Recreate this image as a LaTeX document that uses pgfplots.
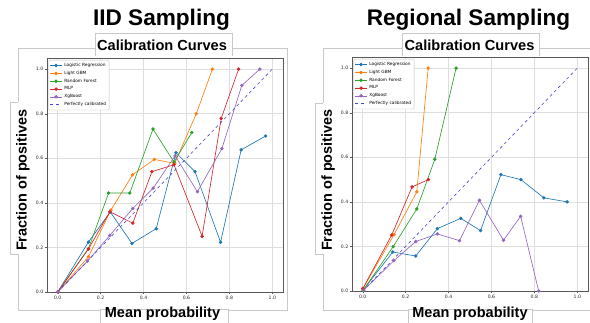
\documentclass[border=0pt]{standalone}
\usepackage{pgfplots}
\pgfplotsset{compat=1.18}
\usepackage{fontspec}
\setmainfont{Liberation Sans}
\newfontfamily\dejavu{DejaVu Sans}
\definecolor{tabblue}{HTML}{1F77B4}
\definecolor{taborange}{HTML}{FF7F0E}
\definecolor{tabgreen}{HTML}{2CA02C}
\definecolor{tabred}{HTML}{D62728}
\definecolor{tabpurple}{HTML}{9467BD}
\definecolor{perfcol}{RGB}{70,70,200}
\definecolor{framegray}{RGB}{200,200,200}
\pgfplotsset{
  calstyle/.style={
    scale only axis, width=236pt, height=234pt,
    xmin=-0.05, xmax=1.05, ymin=0, ymax=1.05,
    xtick={0,0.2,0.4,0.6,0.8,1.0}, ytick={0,0.2,0.4,0.6,0.8,1.0},
    xticklabels={}, yticklabels={0.0,0.2,0.4,0.6,0.8,1.0},
    grid=major, major grid style={black!13, line width=0.6pt},
    axis line style={black!65, line width=0.5pt},
    tick align=outside, major tick length=2pt,
    tick style={black!65, line width=0.4pt},
    tick pos=left,
    tick label style={font=\dejavu\fontsize{4.6}{5.5}\selectfont, text=black!85, inner sep=1.5pt},
    after end axis/.code={
      \foreach \v/\t in {0/0.0,0.2/0.2,0.4/0.4,0.6/0.6,0.8/0.8,1/1.0}{
        \node[anchor=north, inner sep=1.5pt, yshift=-2pt, font=\dejavu\fontsize{4.6}{5.5}\selectfont, text=black!85] at (axis cs:\v,0) {\t};
      }
    },
    legend style={at={(rel axis cs:0,1)}, anchor=north west, xshift=1.5pt, yshift=-2pt,
      font=\dejavu\fontsize{4.3}{5}\selectfont, draw=black!25, rounded corners=1pt,
      inner sep=1pt, row sep=-0.9pt, line width=0.4pt},
    legend cell align=left,
    legend image code/.code={\draw[mark repeat=2,mark phase=2] plot coordinates {(0pt,0pt) (6pt,0pt) (12pt,0pt)};},
    every axis plot/.append style={line width=0.65pt, mark=*, mark size=1.4pt},
  },
}
\begin{document}
\begin{tikzpicture}
\path[use as bounding box] (0,0) rectangle (590pt,322pt);
% outer frames
\draw[framegray, line width=0.8pt] (18pt,12pt) rectangle (287pt,274pt);
\draw[framegray, line width=0.8pt] (323pt,12pt) rectangle (596pt,274pt);

% ---------------- Left axis ----------------
\begin{axis}[calstyle, at={(47pt,30pt)}, anchor=south west]
\addplot[tabblue, mark options={fill=tabblue}] coordinates {(0,0) (0.143,0.224) (0.245,0.359) (0.346,0.218) (0.459,0.284) (0.551,0.625) (0.640,0.540) (0.759,0.223) (0.855,0.638) (0.969,0.700)};
\addlegendentry{Logistic Regression}
\addplot[taborange, mark options={fill=taborange}] coordinates {(0,0) (0.143,0.158) (0.248,0.368) (0.349,0.526) (0.450,0.595) (0.545,0.577) (0.646,0.800) (0.721,1.0)};
\addlegendentry{Light GBM}
\addplot[tabgreen, mark options={fill=tabgreen}] coordinates {(0,0) (0.143,0.194) (0.237,0.444) (0.336,0.444) (0.444,0.731) (0.542,0.583) (0.625,0.716)};
\addlegendentry{Random Forest}
\addplot[tabred, mark options={fill=tabred}] coordinates {(0,0) (0.143,0.193) (0.243,0.360) (0.350,0.309) (0.439,0.540) (0.542,0.571) (0.673,0.250) (0.762,0.779) (0.843,1.0)};
\addlegendentry{MLP}
\addplot[tabpurple, mark options={fill=tabpurple}] coordinates {(0,0) (0.139,0.139) (0.243,0.254) (0.350,0.375) (0.445,0.466) (0.547,0.611) (0.651,0.450) (0.765,0.643) (0.858,0.927) (0.942,1.0)};
\addlegendentry{XgBoost}
\addplot[perfcol, dashed, no markers, line width=0.6pt] coordinates {(0,0) (1,1)};
\addlegendentry{Perfectly calibrated}
\end{axis}

% ---------------- Right axis ----------------
\begin{axis}[calstyle, at={(352pt,31pt)}, anchor=south west]
\addplot[tabblue, mark options={fill=tabblue}] coordinates {(0.003,0.006) (0.140,0.175) (0.247,0.157) (0.348,0.280) (0.457,0.326) (0.549,0.271) (0.644,0.522) (0.737,0.500) (0.844,0.418) (0.953,0.400)};
\addlegendentry{Logistic Regression}
\addplot[taborange, mark options={fill=taborange}] coordinates {(0,0.009) (0.146,0.253) (0.252,0.445) (0.305,1.0)};
\addlegendentry{Light GBM}
\addplot[tabgreen, mark options={fill=tabgreen}] coordinates {(0.002,0.003) (0.142,0.199) (0.252,0.368) (0.336,0.591) (0.435,1.0)};
\addlegendentry{Random Forest}
\addplot[tabred, mark options={fill=tabred}] coordinates {(0.001,0.012) (0.135,0.251) (0.230,0.467) (0.306,0.500)};
\addlegendentry{MLP}
\addplot[tabpurple, mark options={fill=tabpurple}] coordinates {(0.005,0.004) (0.145,0.136) (0.247,0.222) (0.348,0.256) (0.451,0.226) (0.544,0.407) (0.656,0.228) (0.736,0.335) (0.820,0.0)};
\addlegendentry{XgBoost}
\addplot[perfcol, dashed, no markers, line width=0.6pt] coordinates {(0,0) (1,1)};
\addlegendentry{Perfectly calibrated}
\end{axis}

% ---------------- Label boxes ----------------
\fill[white] (95pt,266pt) rectangle (232pt,289pt);
\draw[framegray, line width=0.5pt] (95pt,266pt) -- (95pt,289pt) -- (232pt,289pt) -- (232pt,266pt);
\fill[white] (402pt,266pt) rectangle (539pt,289pt);
\draw[framegray, line width=0.5pt] (402pt,266pt) -- (402pt,289pt) -- (539pt,289pt) -- (539pt,266pt);
\node[font=\bfseries\fontsize{14.6}{16}\selectfont, inner sep=0pt] at (162pt,276.5pt) {Calibration Curves};
\node[font=\bfseries\fontsize{14.6}{16}\selectfont, inner sep=0pt] at (469.5pt,276.5pt) {Calibration Curves};
\node[font=\bfseries\fontsize{22.6}{25}\selectfont, inner sep=0pt] at (161.5pt,302pt) {IID Sampling};
\node[font=\bfseries\fontsize{22.6}{25}\selectfont, inner sep=0pt] at (468.5pt,302pt) {Regional Sampling};
\fill[white] (10pt,68pt) rectangle (31pt,220pt);
\draw[framegray, line width=0.5pt] (18pt,220pt) -- (10pt,220pt) -- (10pt,68pt) -- (18pt,68pt);
\fill[white] (315pt,68pt) rectangle (335pt,219pt);
\draw[framegray, line width=0.5pt] (323pt,219pt) -- (315pt,219pt) -- (315pt,68pt) -- (323pt,68pt);
\node[font=\bfseries\fontsize{14.5}{16}\selectfont, inner sep=0pt, rotate=90] at (23pt,142pt) {Fraction of positives};
\node[font=\bfseries\fontsize{14.5}{16}\selectfont, inner sep=0pt, rotate=90] at (328pt,142pt) {Fraction of positives};
\fill[white] (100pt,-2pt) rectangle (228pt,16pt);
\draw[framegray, line width=0.5pt] (100pt,-2pt) -- (100pt,13pt) -- (228pt,13pt) -- (228pt,-2pt);
\fill[white] (408pt,-2pt) rectangle (532pt,16pt);
\draw[framegray, line width=0.5pt] (408pt,-2pt) -- (408pt,13pt) -- (532pt,13pt) -- (532pt,-2pt);
\node[font=\bfseries\fontsize{14.5}{16}\selectfont, inner sep=0pt] at (162.5pt,8pt) {Mean probability};
\node[font=\bfseries\fontsize{14.5}{16}\selectfont, inner sep=0pt] at (470pt,8pt) {Mean probability};
\end{tikzpicture}
\end{document}
